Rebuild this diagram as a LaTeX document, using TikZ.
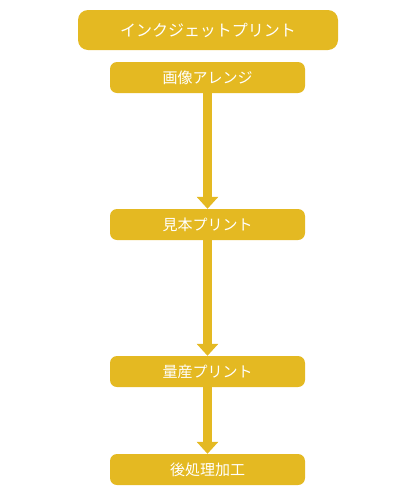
\documentclass[tikz,border=0pt]{standalone}
\usepackage{fontspec}
\setmainfont{Noto Sans CJK JP}
\usetikzlibrary{arrows.meta}
\definecolor{gold}{HTML}{E4B922}
\begin{document}
\begin{tikzpicture}[x=1pt,y=1pt,
  box/.style={fill=gold, draw=none, rounded corners=7pt, minimum width=195pt, minimum height=31pt, inner sep=0pt, text=white, font=\fontsize{15}{18}\selectfont},
  topbox/.style={box, rounded corners=10pt, minimum width=260pt, minimum height=40pt, font=\fontsize{16}{20}\selectfont},
  flow/.style={draw=gold, line width=9pt, -{Triangle[width=21pt 0,length=12pt 0,fill=gold]}, shorten >=0pt}]
\useasboundingbox (0,0) rectangle (416,-496);
\node[topbox] (t) at (208,-30) {インクジェットプリント};
\node[box] (a) at (207.5,-77.5) {画像アレンジ};
\node[box] (b) at (207.5,-224.5) {見本プリント};
\node[box] (c) at (207.5,-371.5) {量産プリント};
\node[box] (d) at (207.5,-469.5) {後処理加工};
\draw[flow] (a.south) -- (b.north);
\draw[flow] (b.south) -- (c.north);
\draw[flow] (c.south) -- (d.north);
\end{tikzpicture}
\end{document}
